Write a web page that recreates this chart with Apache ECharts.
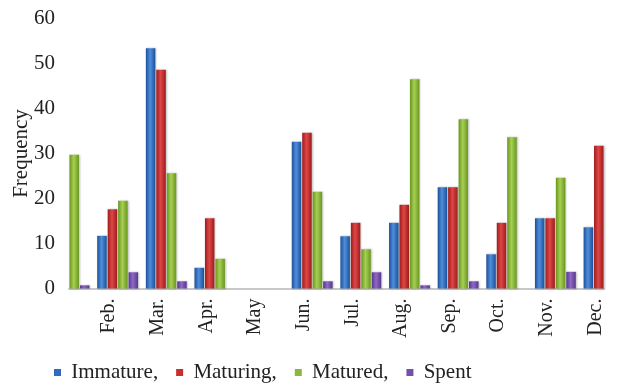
<!DOCTYPE html>
<html>
<head>
<meta charset="utf-8">
<script src="https://cdn.jsdelivr.net/npm/echarts@6/dist/echarts.min.js"></script>
<style>
  html, body { margin: 0; padding: 0; background: #fff; }
  #chart { width: 617px; height: 384px; }
</style>
</head>
<body>
<div id="chart"></div>
<script>
// Monthly frequency of gonad maturity stages
const months = ['Jan.', 'Feb.', 'Mar.', 'Apr.', 'May', 'Jun.', 'Jul.', 'Aug.', 'Sep.', 'Oct.', 'Nov.', 'Dec.'];
const immature = [null, 11.7, 53.4, 4.6, 0, 32.6, 11.6, 14.6, 22.5, 7.6, 15.6, 13.6];
const maturing = [null, 17.6, 48.6, 15.6, 0, 34.6, 14.6, 18.6, 22.5, 14.6, 15.6, 31.7];
const matured  = [29.7, 19.5, 25.6, 6.6, 0, 21.5, 8.7, 46.5, 37.6, 33.6, 24.6, null];
const spent    = [0.7, 3.6, 1.6, 0, 0, 1.6, 3.6, 0.7, 1.6, 0, 3.7, null];
const yTicks = { min: 0, max: 60, interval: 10 };

const FONT = "'Liberation Serif', 'Times New Roman', serif";

function tube(dark, light) {
  return new echarts.graphic.LinearGradient(0, 0, 1, 0, [
    { offset: 0, color: dark },
    { offset: 0.45, color: light },
    { offset: 1, color: dark }
  ]);
}

const palette = [
  { name: 'Immature,', data: immature, dark: '#1e4f99', light: '#4d8fdc', icon: '#2f6cc0' },
  { name: 'Maturing,', data: maturing, dark: '#9c1c1c', light: '#e04646', icon: '#c83030' },
  { name: 'Matured,',  data: matured,  dark: '#6a9620', light: '#a6d052', icon: '#8ab83a' },
  { name: 'Spent',     data: spent,    dark: '#55378a', light: '#9068c8', icon: '#7450a8' }
];

const chart = echarts.init(document.getElementById('chart'), null, { renderer: 'canvas' });

chart.setOption({
  animation: false,
  backgroundColor: '#ffffff',
  grid: {
    left: 69, right: 13, top: 18.5, bottom: 95.5,
    containLabel: false,
    outerBoundsMode: 'none'
  },
  legend: {
    left: 49,
    top: 357,
    itemWidth: 7,
    itemHeight: 7,
    itemGap: 18,
    icon: 'rect',
    formatter: ' {name}',
    textStyle: { fontFamily: FONT, fontSize: 21, color: '#222' },
    data: palette.map(p => ({ name: p.name, itemStyle: { color: p.icon } }))
  },
  xAxis: {
    type: 'category',
    data: months,
    boundaryGap: false,
    axisLine: { show: true, lineStyle: { color: '#c8c8c8', width: 2 } },
    axisTick: { show: false },
    axisLabel: {
      rotate: 90,
      margin: 10,
      interval: 0,
      lineHeight: 17,
      fontFamily: FONT,
      fontSize: 20,
      color: '#222',
      // a blank second line nudges each month name to the left of its group
      formatter: (v, i) => (i === 0 ? '' : v + '\n\u00a0')
    },
    splitLine: { show: false }
  },
  yAxis: {
    type: 'value',
    min: yTicks.min,
    max: yTicks.max,
    interval: yTicks.interval,
    name: 'Frequency',
    nameLocation: 'middle',
    nameGap: 37,
    nameMoveOverlap: false,
    nameTextStyle: { fontFamily: FONT, fontSize: 21, color: '#222' },
    axisLine: { show: false },
    axisTick: { show: false },
    splitLine: { show: false },
    axisLabel: { margin: 14, fontFamily: FONT, fontSize: 21, color: '#222' }
  },
  series: palette.map(p => ({
    name: p.name,
    type: 'bar',
    data: p.data,
    barWidth: 9.5,
    barGap: '10%',
    clip: true,
    itemStyle: {
      color: tube(p.dark, p.light),
      shadowColor: 'rgba(0,0,0,0.25)',
      shadowBlur: 2,
      shadowOffsetX: 1
    }
  }))
});
</script>
</body>
</html>
